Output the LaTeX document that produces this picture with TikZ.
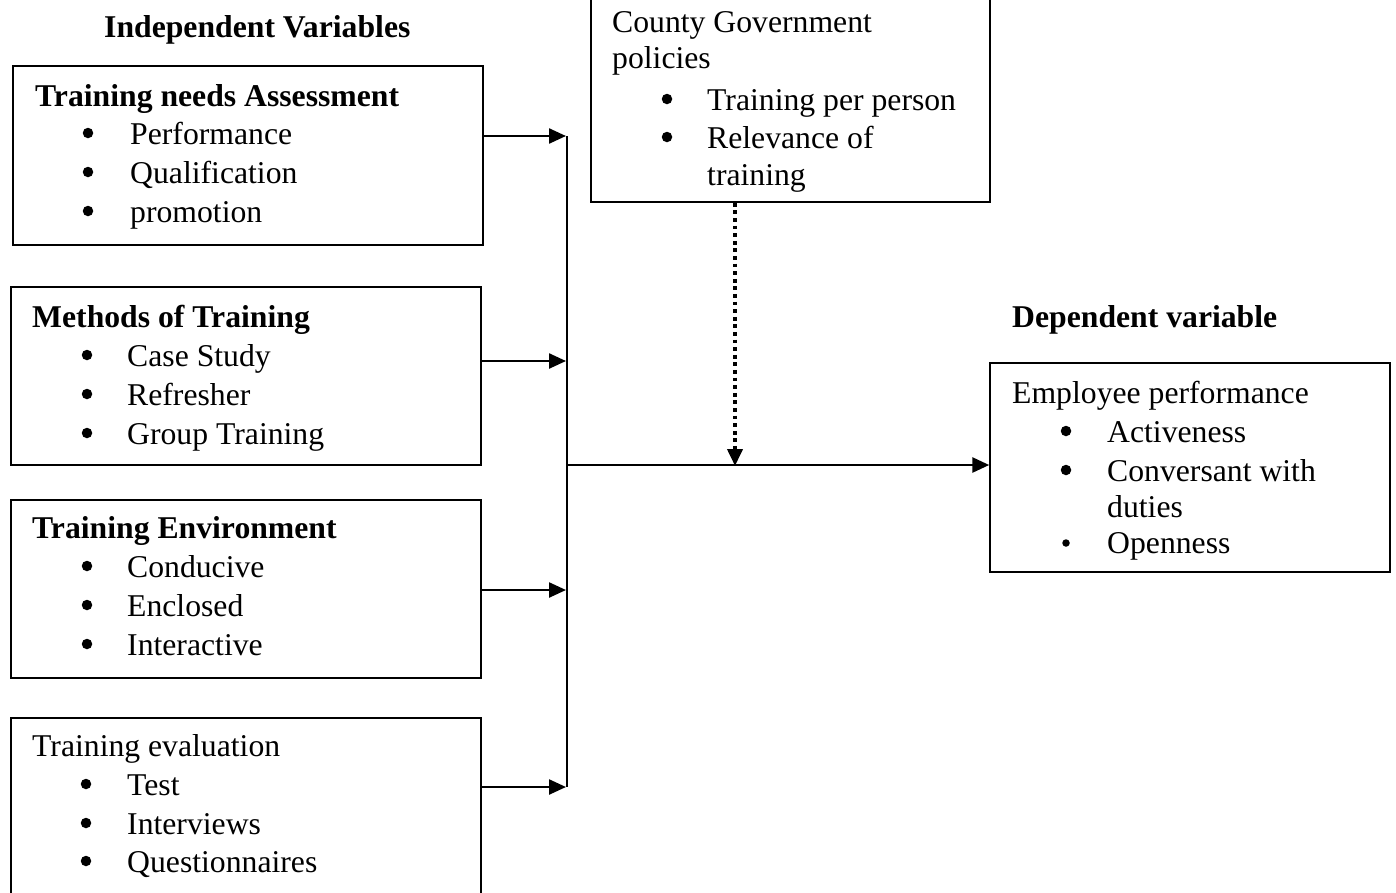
\documentclass[tikz,border=0pt]{standalone}
\usepackage{fontspec}
\setmainfont{Liberation Serif}
\usetikzlibrary{arrows.meta}
\begin{document}
\begin{tikzpicture}[x=1pt,y=-1pt,
  box/.style 2 args={draw, line width=1.5pt, inner sep=0pt, minimum width=#1, minimum height=#2},
  txt/.style={anchor=base west, inner sep=0pt, font=\fontsize{31.7}{39}\selectfont},
  hd/.style={txt, font=\fontsize{31.7}{39}\selectfont\bfseries},
  bul/.style={circle, fill, inner sep=0pt, minimum size=10.5pt},
  sbul/.style={circle, fill, inner sep=0pt, minimum size=7.5pt},
  arr/.style={line width=2.4pt, -{Triangle[length=17pt,width=15pt]}},
  vline/.style={line width=1.8pt},
  mainarr/.style={line width=2.8pt, -{Triangle[length=17pt,width=15pt]}},
  dotarr/.style={line width=3.8pt, dash pattern=on 3.8pt off 3.8pt, -{Triangle[length=17pt,width=15pt]}}
]
\useasboundingbox (0,0) rectangle (1396,892);

% boxes
\node[box={470pt}{179pt}] (b1) at (248,155.5) {};
\node[box={470pt}{178pt}] (b2) at (246,376) {};
\node[box={470pt}{178pt}] (b3) at (246,589) {};
\node[box={470pt}{210pt}] (b4) at (246,823) {};
\node[box={399pt}{232pt}] (cg) at (790.5,86) {};
\node[box={400pt}{209pt}] (emp) at (1190,467.5) {};

% headings
\node[hd] (hind) at (104,37) {Independent Variables};
\node[hd] (hdep) at (1012,327) {Dependent variable};

% box 1
\node[hd] (t1) at (35,106) {Training needs Assessment};
\node[bul] (b1a) at (88,133) {}; \node[txt] (i1a) at (130,144) {Performance};
\node[bul] (b1b) at (88,172) {}; \node[txt] (i1b) at (130,183) {Qualification};
\node[bul] (b1c) at (88,211) {}; \node[txt] (i1c) at (130,222) {promotion};

% box 2
\node[hd] (t2) at (32,327) {Methods of Training};
\node[bul] (b2a) at (87,355) {}; \node[txt] (i2a) at (127,366) {Case Study};
\node[bul] (b2b) at (87,394) {}; \node[txt] (i2b) at (127,405) {Refresher};
\node[bul] (b2c) at (87,433) {}; \node[txt] (i2c) at (127,444) {Group Training};

% box 3
\node[hd] (t3) at (32,538) {Training Environment};
\node[bul] (b3a) at (87,566) {}; \node[txt] (i3a) at (127,577) {Conducive};
\node[bul] (b3b) at (87,605) {}; \node[txt] (i3b) at (127,616) {Enclosed};
\node[bul] (b3c) at (87,644) {}; \node[txt] (i3c) at (127,655) {Interactive};

% box 4
\node[txt] (t4) at (32,756) {Training evaluation};
\node[bul] (b4a) at (86,784) {}; \node[txt] (i4a) at (127,795) {Test};
\node[bul] (b4b) at (86,823) {}; \node[txt] (i4b) at (127,834) {Interviews};
\node[bul] (b4c) at (86,861) {}; \node[txt] (i4c) at (127,872) {Questionnaires};

% county government
\node[txt] (tc1) at (612,32) {County Government};
\node[txt] (tc2) at (612,68) {policies};
\node[bul] (bca) at (667,99) {}; \node[txt] (ica) at (707,110) {Training per person};
\node[bul] (bcb) at (667,137) {}; \node[txt] (icb) at (707,148) {Relevance of};
\node[txt] (icc) at (707,185) {training};

% employee performance
\node[txt] (te) at (1012,403) {Employee performance};
\node[bul] (bea) at (1066,431) {}; \node[txt] (iea) at (1107,442) {Activeness};
\node[bul] (beb) at (1066,470) {}; \node[txt] (ieb) at (1107,481) {Conversant with};
\node[txt] (iec) at (1107,517) {duties};
\node[sbul] (bed) at (1066,543) {}; \node[txt] (ied) at (1107,553) {Openness};

% junction coordinates
\coordinate (j1) at (567,136);
\coordinate (j2) at (567,361);
\coordinate (j3) at (567,590);
\coordinate (j4) at (567,787);
\coordinate (jm) at (567,465);
\coordinate (jd) at (735,465);

% connectors
\draw[arr] (b1.east |- j1) -- ([xshift=-1pt]j1);
\draw[arr] (b2.east |- j2) -- ([xshift=-1pt]j2);
\draw[arr] (b3.east |- j3) -- ([xshift=-1pt]j3);
\draw[arr] (b4.east |- j4) -- ([xshift=-1pt]j4);
\draw[vline] (j1) -- (j4);
\draw[mainarr] (jm) -- (emp.west |- jm);
\draw[dotarr] (cg.south -| jd) -- ([yshift=-1pt]jd);
\end{tikzpicture}
\end{document}
